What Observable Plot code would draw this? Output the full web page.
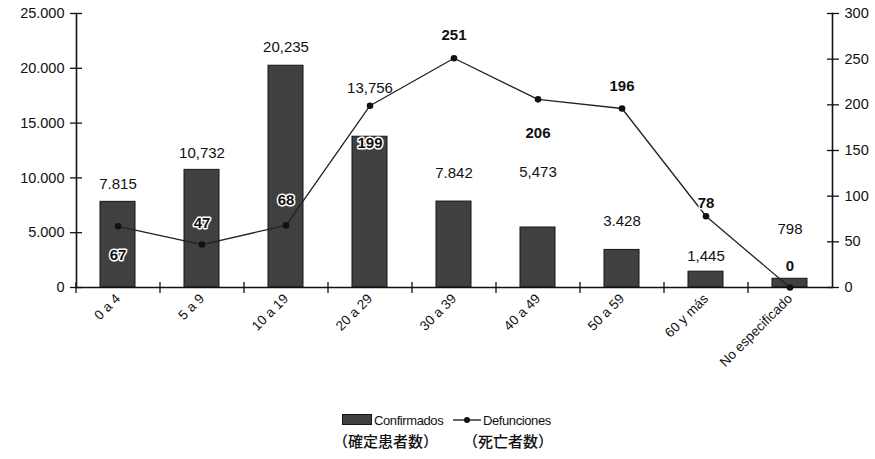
<!DOCTYPE html>
<html>
<head>
<meta charset="utf-8">
<script src="https://cdn.jsdelivr.net/npm/d3@7"></script>
<script src="https://cdn.jsdelivr.net/npm/@observablehq/plot@0.6"></script>
<style>
  html, body { margin: 0; padding: 0; background: #fff; }
  #wrap { position: relative; width: 875px; height: 459px; font-family: "Liberation Sans", Arial, sans-serif; }
  .leg { position: absolute; white-space: nowrap; font-size: 13px; letter-spacing: -0.4px; color: #111; line-height: 15px; }
  .cjk { font-family: "Noto Sans CJK JP", "Noto Sans CJK SC", sans-serif; font-size: 15px; font-weight: 500; letter-spacing: 0; line-height: 17px; }
</style>
</head>
<body>
<div id="wrap"></div>
<script>
// ---- data ----
const categories = ["0 a 4", "5 a 9", "10 a 19", "20 a 29", "30 a 39", "40 a 49", "50 a 59", "60 y más", "No especificado"];
const confirmados = [7815, 10732, 20235, 13756, 7842, 5473, 3428, 1445, 798];
const confirmadosLabels = ["7.815", "10,732", "20,235", "13,756", "7.842", "5,473", "3.428", "1,445", "798"];
const defunciones = [67, 47, 68, 199, 251, 206, 196, 78, 0];
const leftTicks = [0, 5000, 10000, 15000, 20000, 25000];
const rightTicks = [0, 50, 100, 150, 200, 250, 300];

// ---- layout nudges for value labels (pixels, relative to the mark) ----
const confLabelDy = [-18, -17, -19, -49, -28, -55, -29, -15, -50];
const deathLabelDy = [29, -21, -25, 37, -23, 34, -22, -13, -21];

const k = 25000 / 300; // right axis -> left axis units
const rows = categories.map((c, i) => ({
  cat: c, conf: confirmados[i], confLabel: confirmadosLabels[i],
  deaths: defunciones[i], cdy: confLabelDy[i], ddy: deathLabelDy[i]
}));

const fmtLeft = d => d3.format(",")(d).replace(/,/g, ".");

const confTexts = rows.map(r => Plot.text([r], {x: "cat", y: "conf", text: "confLabel", dy: r.cdy, fontSize: 15, fill: "#111"}));
const deathTexts = rows.map(r => Plot.text([r], {x: "cat", y: d => d.deaths * k, text: d => String(d.deaths), dy: r.ddy,
  fontSize: 15, fontWeight: "bold", fill: "#111", stroke: "white", strokeWidth: 3, paintOrder: "stroke"}));

const chart = Plot.plot({
  width: 875,
  height: 400,
  marginLeft: 76,
  marginRight: 43,
  marginTop: 13,
  marginBottom: 113,
  style: {fontFamily: "'Liberation Sans', Arial, sans-serif", fontSize: "14px", color: "#111", background: "#fff"},
  x: {domain: categories, paddingInner: 0.58, paddingOuter: 0.29, label: null},
  y: {domain: [0, 25000], label: null},
  marks: [
    Plot.barY(rows, {x: "cat", y: "conf", fill: "#404040", stroke: "#151515", strokeWidth: 1}),
    Plot.ruleY([0], {stroke: "#111", strokeWidth: 1.6}),
    Plot.frame({anchor: "left", stroke: "#111", strokeWidth: 1.6}),
    Plot.frame({anchor: "right", stroke: "#111", strokeWidth: 1.6}),
    Plot.axisY({ticks: leftTicks, tickSize: 12, dx: 6, tickFormat: () => "", stroke: "#111", strokeWidth: 1.3}),
    Plot.axisY({ticks: leftTicks, tickSize: 0, tickPadding: 12, tickFormat: fmtLeft, fontSize: 14.5}),
    Plot.axisY({anchor: "right", ticks: rightTicks.map(d => d * k), tickSize: 12, dx: -6, tickFormat: () => "", stroke: "#111", strokeWidth: 1.3}),
    Plot.axisY({anchor: "right", ticks: rightTicks.map(d => d * k), tickSize: 0, tickPadding: 12, tickFormat: d => String(Math.round(d / k)), fontSize: 14.5}),
    Plot.axisX({tickSize: 11, dy: -5, dx: -42, tickFormat: () => "", stroke: "#111", strokeWidth: 1.3}),
    Plot.axisX({tickSize: 0, tickRotate: -45, tickPadding: 9, fontSize: 13.5}),
    Plot.line(rows, {x: "cat", y: d => d.deaths * k, stroke: "#222", strokeWidth: 1.3}),
    Plot.dot(rows, {x: "cat", y: d => d.deaths * k, r: 3.3, fill: "#111"}),
    ...confTexts,
    ...deathTexts
  ]
});

const wrap = document.getElementById("wrap");
wrap.appendChild(chart);

// legend
const legend = document.createElement("div");
legend.innerHTML = `
  <div class="leg" style="left:342px; top:413px;">
    <svg width="30" height="12" style="vertical-align:-1px"><rect x="0.5" y="0.5" width="29" height="10" fill="#404040" stroke="#151515"/></svg><span style="margin-left:2px">Confirmados</span>
  </div>
  <div class="leg" style="left:453px; top:413px;">
    <svg width="28" height="12" style="vertical-align:-1px"><line x1="0" y1="6" x2="28" y2="6" stroke="#222" stroke-width="1.4"/><circle cx="14" cy="6" r="3" fill="#111"/></svg><span style="margin-left:2px">Defunciones</span>
  </div>
  <div class="leg cjk" style="left:333px; top:432px;">（確定患者数）</div>
  <div class="leg cjk" style="left:463px; top:432px;">（死亡者数）</div>
`;
wrap.appendChild(legend);
</script>
</body>
</html>
